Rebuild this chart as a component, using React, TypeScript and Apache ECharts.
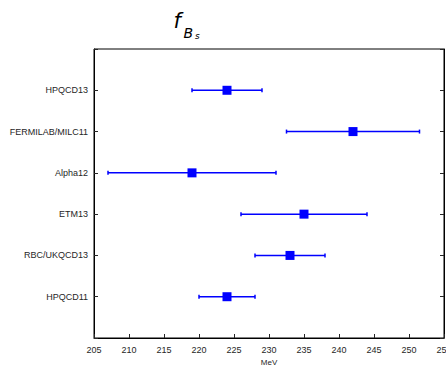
import React, { useEffect, useRef } from "react";
import * as echarts from "echarts";

const categories = ["HPQCD13", "FERMILAB/MILC11", "Alpha12", "ETM13", "RBC/UKQCD13", "HPQCD11"];
const centers = [224, 242, 219, 235, 233, 224];
const lowErr = [5, 9.5, 12, 9, 5, 4];
const highErr = [5, 9.5, 12, 9, 5, 4];
const xTicks = { min: 205, max: 255, interval: 5 };

export default function App() {
  const ref = useRef<HTMLDivElement>(null);
  useEffect(() => {
    if (!ref.current) return;
    const chart = echarts.init(ref.current, undefined, { renderer: "svg" });
    const yPos = categories.map((_, i) => i + 1);
    const errData = categories.map((_, i) => [centers[i] - lowErr[i], centers[i] + highErr[i], yPos[i]]);
    const ptData = categories.map((_, i) => [centers[i], yPos[i]]);
    const labelFont = "Liberation Sans, Arial, sans-serif";
    const yBase = {
      type: "value" as const,
      min: 0,
      max: 7,
      interval: 1,
      inverse: true,
      splitLine: { show: false },
      axisLine: { show: true, onZero: false, lineStyle: { color: "#000", width: 1 } },
      axisTick: { show: true, inside: true, length: 4, lineStyle: { color: "#262626" } },
    };
    chart.setOption({
      animation: false,
      backgroundColor: "#fff",
      grid: {
        left: 94,
        right: 2,
        top: 49,
        bottom: 28,
        containLabel: false,
        outerBoundsMode: "none",
        show: true,
        borderColor: "#000",
        borderWidth: 1,
      },
      graphic: [
        { type: "text", x: 173.5, y: 21, style: { text: "f", font: "italic 21px 'DejaVu Sans'", fill: "#000", verticalAlign: "middle" } },
        { type: "text", x: 183.5, y: 32.5, style: { text: "B", font: "italic 14px 'DejaVu Sans'", fill: "#000", verticalAlign: "middle" } },
        { type: "text", x: 195, y: 36, style: { text: "s", font: "italic 9px 'DejaVu Sans'", fill: "#000", verticalAlign: "middle" } },
      ],
      xAxis: [
        {
          type: "value",
          min: xTicks.min,
          max: xTicks.max,
          interval: xTicks.interval,
          position: "bottom",
          splitLine: { show: false },
          axisLine: { show: true, onZero: false, lineStyle: { color: "#000", width: 1 } },
          axisTick: { show: true, inside: true, length: 4, lineStyle: { color: "#262626" } },
          axisLabel: { fontSize: 9, color: "#262626", fontFamily: labelFont, margin: 7, showMinLabel: true, showMaxLabel: true },
          name: "MeV",
          nameLocation: "middle",
          nameGap: 18,
          nameTextStyle: { fontSize: 8, color: "#262626", fontFamily: labelFont },
        },
      ],
      yAxis: [
        {
          ...yBase,
          position: "left",
          axisLabel: {
            fontSize: 9,
            color: "#262626",
            fontFamily: labelFont,
            margin: 6,
            formatter: (v: number) => categories[v - 1] ?? "",
          },
        },
        {
          ...yBase,
          position: "right",
          axisLabel: { show: false },
        },
      ],
      series: [
        {
          type: "custom",
          xAxisIndex: 0,
          yAxisIndex: 0,
          data: errData,
          renderItem: (params: any, api: any) => {
            const lo = api.coord([api.value(0), api.value(2)]);
            const hi = api.coord([api.value(1), api.value(2)]);
            const style = { stroke: "#0000ff", lineWidth: 1.5 };
            const cap = 2;
            return {
              type: "group",
              children: [
                { type: "line", shape: { x1: lo[0], y1: lo[1], x2: hi[0], y2: hi[1] }, style },
                { type: "line", shape: { x1: lo[0], y1: lo[1] - cap, x2: lo[0], y2: lo[1] + cap }, style },
                { type: "line", shape: { x1: hi[0], y1: hi[1] - cap, x2: hi[0], y2: hi[1] + cap }, style },
              ],
            };
          },
          z: 2,
        },
        {
          type: "scatter",
          xAxisIndex: 0,
          yAxisIndex: 0,
          data: ptData,
          symbol: "rect",
          symbolSize: 9,
          itemStyle: { color: "#0000ff", opacity: 1 },
          z: 3,
        },
      ],
    });
    return () => chart.dispose();
  }, []);
  return <div ref={ref} style={{ position: "absolute", left: 0, top: 0, width: 446, height: 366 }} />;
}
